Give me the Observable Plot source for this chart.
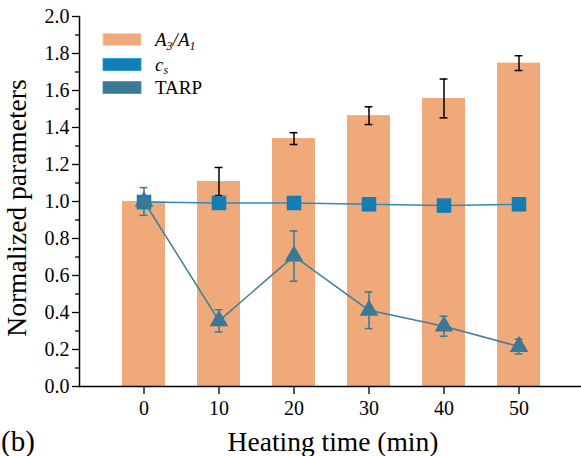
<!DOCTYPE html>
<html><head><meta charset="utf-8">
<script src="https://cdn.jsdelivr.net/npm/d3@7"></script>
<script src="https://cdn.jsdelivr.net/npm/@observablehq/plot@0.6"></script>
<style>body{margin:0;background:#fff} svg{display:block}</style>
</head><body><div id="chart"></div>
<script>
const times = [0, 10, 20, 30, 40, 50];
const ratioA = [1.00, 1.108, 1.34, 1.464, 1.557, 1.748];
const ratioErr = [0.03, 0.076, 0.032, 0.048, 0.105, 0.04];
const cs = [0.997, 0.992, 0.992, 0.985, 0.978, 0.985];
const tarp = [1.0, 0.355, 0.705, 0.412, 0.326, 0.216];
const tarpErr = [0.075, 0.06, 0.136, 0.099, 0.054, 0.04];
const yTicks = [0, 0.2, 0.4, 0.6, 0.8, 1.0, 1.2, 1.4, 1.6, 1.8, 2.0];
const yMinor = [0.1, 0.3, 0.5, 0.7, 0.9, 1.1, 1.3, 1.5, 1.7, 1.9];
const seriesNames = ["A3/A1", "cs", "TARP"];
const xTitle = "Heating time (min)";
const yTitle = "Normalized parameters";
const panel = "(b)";

const barColor = "#F0A97A";
const csColor = "#137EB3";
const csLine = "#2F8BBB";
const tarpColor = "#3A7896";
const tarpLine = "#3E7D9B";
const serif = "Liberation Serif, Times New Roman, serif";

const data = times.map((t, i) => ({
  t, a: ratioA[i], aLo: ratioA[i] - ratioErr[i], aHi: ratioA[i] + ratioErr[i],
  c: cs[i], p: tarp[i], pLo: tarp[i] - tarpErr[i], pHi: tarp[i] + tarpErr[i]
}));
const cap = {insetLeft: 17.6, insetRight: 17.6};
const axisFont = {fontFamily: serif, fontSize: 20};

const plot = Plot.plot({
  width: 581, height: 456,
  marginLeft: 79, marginRight: 1, marginTop: 16, marginBottom: 70,
  style: {fontFamily: serif, fontSize: "20px", background: "white", color: "black"},
  x: {type: "band", domain: times, range: [102.7, 558.3], paddingInner: 0.43, paddingOuter: 0.215},
  y: {domain: [0, 2]},
  marks: [
    Plot.barY(data, {x: "t", y: "a", fill: barColor}),
    Plot.ruleX(data, {x: "t", y1: "aLo", y2: "aHi", stroke: "#000", strokeWidth: 1.5}),
    Plot.tickY(data, {x: "t", y: "aLo", stroke: "#000", strokeWidth: 1.5, ...cap}),
    Plot.tickY(data, {x: "t", y: "aHi", stroke: "#000", strokeWidth: 1.5, ...cap}),
    Plot.line(data, {x: "t", y: "c", stroke: csLine, strokeWidth: 1.5}),
    Plot.dot(data, {x: "t", y: "c", symbol: "square", r: 8.2, fill: csColor}),
    Plot.line(data, {x: "t", y: "p", stroke: tarpLine, strokeWidth: 1.5}),
    Plot.dot(data, {x: "t", y: "p", symbol: "triangle", r: 6.9, fill: tarpColor}),
    Plot.ruleX(data, {x: "t", y1: "pLo", y2: "pHi", stroke: tarpColor, strokeWidth: 1.5}),
    Plot.tickY(data, {x: "t", y: "pLo", stroke: tarpColor, strokeWidth: 1.5, ...cap}),
    Plot.tickY(data, {x: "t", y: "pHi", stroke: tarpColor, strokeWidth: 1.5, ...cap}),
    Plot.axisY({ticks: yTicks, tickFormat: d3.format(".1f"), tickSize: 7, tickPadding: 3, label: null, strokeWidth: 1.3, ...axisFont}),
    Plot.axisY({ticks: yMinor, tickFormat: () => "", tickSize: 4, label: null, strokeWidth: 1.3}),
    Plot.axisX({tickSize: 8, tickPadding: 6, label: null, strokeWidth: 1.3, ...axisFont}),
    Plot.frame({anchor: "left", strokeWidth: 1.5}),
    Plot.frame({anchor: "bottom", strokeWidth: 1.5})
  ]
});
document.getElementById("chart").appendChild(plot);

const svg = d3.select(plot);
svg.attr("font-family", serif);
// axis titles
svg.append("text").attr("transform", "translate(26,208) rotate(-90)")
  .attr("text-anchor", "middle").attr("font-family", serif).attr("font-size", 27.5)
  .attr("fill", "#000").text(yTitle);
svg.append("text").attr("x", 333).attr("y", 451)
  .attr("text-anchor", "middle").attr("font-family", serif).attr("font-size", 27.5)
  .attr("fill", "#000").text(xTitle);
svg.append("text").attr("x", 1).attr("y", 451).attr("text-anchor", "start")
  .attr("font-family", serif).attr("font-size", 29)
  .attr("fill", "#000").text(panel);

// legend
const leg = svg.append("g").attr("font-family", serif).attr("font-size", 19)
  .attr("fill", "#000").attr("text-anchor", "start");
const legColors = [barColor, csColor, tarpColor];
const rowsY = [39.5, 64.5, 87.5];
seriesNames.forEach((name, i) => {
  leg.append("rect").attr("x", 103).attr("y", rowsY[i] - 6).attr("width", 38).attr("height", 12)
    .attr("fill", legColors[i]).attr("stroke", d3.color(legColors[i]).brighter(0.6)).attr("stroke-width", 0.8);
  const tx = leg.append("text").attr("x", 155).attr("y", rowsY[i] + 6.5).attr("text-anchor", "start");
  if (name === "A3/A1") {
    tx.attr("font-style", "italic");
    tx.append("tspan").text("A");
    tx.append("tspan").attr("font-size", 12).attr("dy", 4).text("3");
    tx.append("tspan").attr("dy", -4).text("/A");
    tx.append("tspan").attr("font-size", 12).attr("dy", 4).text("1");
  } else if (name === "cs") {
    tx.attr("font-style", "italic");
    tx.append("tspan").text("c");
    tx.append("tspan").attr("font-size", 12).attr("dy", 3).text("s");
  } else {
    tx.text(name);
  }
});
</script>
</body></html>
